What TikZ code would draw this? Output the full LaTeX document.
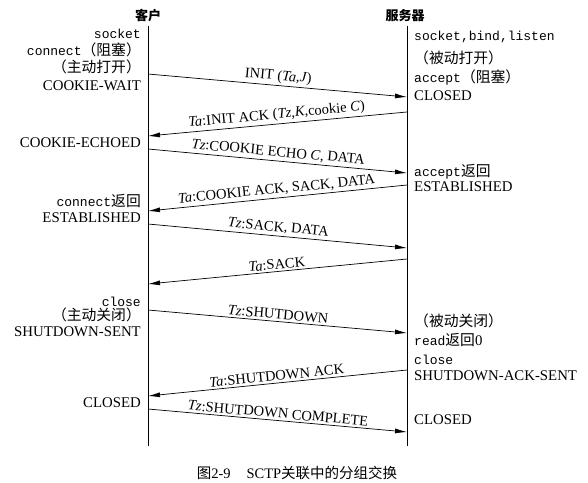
\documentclass[tikz,border=0pt]{standalone}
\usepackage{fontspec}
\setmainfont{Liberation Serif}
\setmonofont{Liberation Mono}
\newfontfamily\cjk{Noto Sans CJK SC}
\usetikzlibrary{arrows.meta}
\newcommand{\zh}[1]{{\cjk #1}}
\newcommand{\api}[1]{{\fontsize{13}{14}\selectfont\ttfamily #1}}

\begin{document}
\begin{tikzpicture}[x=1pt,y=-1pt,
  lifeline/.style={line width=0.7pt},
  msg/.style={line width=0.7pt,-{Latex[length=12pt,width=5pt]}},
  lbl/.style={midway, above, sloped, inner sep=2pt, font=\fontsize{14.5}{16}\selectfont},
  lstate/.style={anchor=mid east, inner sep=0pt, font=\fontsize{14.8}{16}\selectfont},
  rstate/.style={anchor=mid west, inner sep=0pt, font=\fontsize{14.8}{16}\selectfont}]
  \useasboundingbox (0,0) rectangle (588,482);

  % the two ends
  \node[font=\cjk\bfseries\fontsize{13}{14}\selectfont] (client) at (148,16) {客户};
  \node[font=\cjk\bfseries\fontsize{13}{14}\selectfont] (server) at (405,16) {服务器};
  \coordinate (cEnd) at (148,446);
  \coordinate (sEnd) at (407,446);
  \draw[lifeline] (client.south -| cEnd) -- (cEnd);
  \draw[lifeline] (server.south -| sEnd) -- (sEnd);

  % client side
  \node[lstate] (cSocket)   at (141,36)  {\api{socket}};
  \node[lstate] (cConnect)  at (141,53)  {\api{connect}\zh{（阻塞）}};
  \node[lstate] (cActive)   at (141,70)  {\zh{（主动打开）}};
  \node[lstate] (cWait)     at (141,88)  {COOKIE-WAIT};
  \node[lstate] (cEchoed)   at (141,145) {COOKIE-ECHOED};
  \node[lstate] (cRet)      at (141,204) {\api{connect}\zh{返回}};
  \node[lstate] (cEst)      at (141,220) {ESTABLISHED};
  \node[lstate] (cClose)    at (141,304) {\api{close}};
  \node[lstate] (cActClose) at (141,318) {\zh{（主动关闭）}};
  \node[lstate] (cSent)     at (141,334) {SHUTDOWN-SENT};
  \node[lstate] (cClosed)   at (141,405) {CLOSED};

  % server side
  \node[rstate] (sListen)    at (414,38)  {\api{socket,bind,listen}};
  \node[rstate] (sPassive)   at (414,61)  {\zh{（被动打开）}};
  \node[rstate] (sAccept)    at (414,80)  {\api{accept}\zh{（阻塞）}};
  \node[rstate] (sClosedA)   at (414,98)  {CLOSED};
  \node[rstate] (sRet)       at (414,174) {\api{accept}\zh{返回}};
  \node[rstate] (sEst)       at (414,189) {ESTABLISHED};
  \node[rstate] (sPassClose) at (414,324) {\zh{（被动关闭）}};
  \node[rstate] (sRead)      at (414,343) {\api{read}\zh{返回}0};
  \node[rstate] (sClose)     at (414,362) {\api{close}};
  \node[rstate] (sAckSent)   at (414,378) {SHUTDOWN-ACK-SENT};
  \node[rstate] (sClosed)    at (414,422) {CLOSED};

  % chunk end points on the lifelines
  \path (148,74)  coordinate (initC)    (407,97)  coordinate (initS)
        (407,112) coordinate (iackS)    (148,136) coordinate (iackC)
        (148,149) coordinate (echoC)    (407,173) coordinate (echoS)
        (407,185) coordinate (cackS)    (148,211) coordinate (cackC)
        (148,224) coordinate (dataC)    (407,248) coordinate (dataS)
        (407,259) coordinate (sackS)    (148,284) coordinate (sackC)
        (148,310) coordinate (shutC)    (407,333) coordinate (shutS)
        (407,370) coordinate (sackAckS) (148,396) coordinate (sackAckC)
        (148,409) coordinate (compC)    (407,432) coordinate (compS);

  \draw[msg] (initC) -- node[lbl] {INIT (\textit{Ta},\textit{J})} (initS);
  \draw[msg] (iackS) -- node[lbl] {\textit{Ta}:INIT ACK (\textit{Tz},\textit{K},cookie \textit{C})} (iackC);
  \draw[msg] (echoC) -- node[lbl] {\textit{Tz}:COOKIE ECHO \textit{C}, DATA} (echoS);
  \draw[msg] (cackS) -- node[lbl] {\textit{Ta}:COOKIE ACK, SACK, DATA} (cackC);
  \draw[msg] (dataC) -- node[lbl] {\textit{Tz}:SACK, DATA} (dataS);
  \draw[msg] (sackS) -- node[lbl] {\textit{Ta}:SACK} (sackC);
  \draw[msg] (shutC) -- node[lbl] {\textit{Tz}:SHUTDOWN} (shutS);
  \draw[msg] (sackAckS) -- node[lbl] {\textit{Ta}:SHUTDOWN ACK} (sackAckC);
  \draw[msg] (compC) -- node[lbl] {\textit{Tz}:SHUTDOWN COMPLETE} (compS);

  \node[font=\fontsize{14.5}{16}\selectfont] (caption) at (297,473)
    {\zh{图}2-9\hspace{1.1em}SCTP\zh{关联中的分组交换}};
\end{tikzpicture}
\end{document}
